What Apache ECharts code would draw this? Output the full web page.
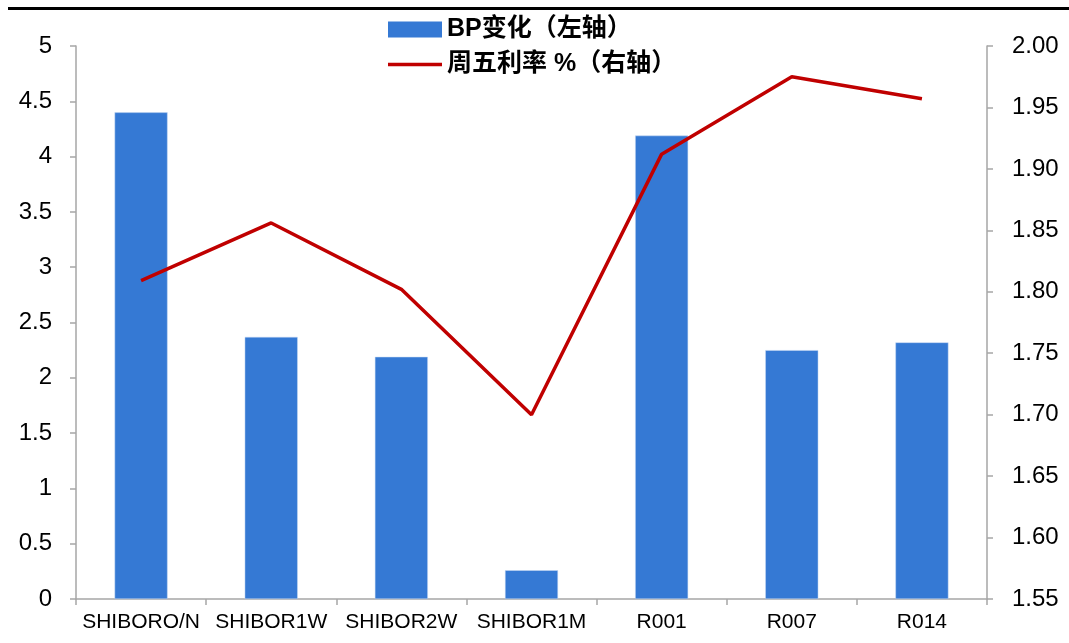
<!DOCTYPE html>
<html>
<head>
<meta charset="utf-8">
<script src="https://cdn.jsdelivr.net/npm/echarts@6/dist/echarts.min.js"></script>
<style>
html,body{margin:0;padding:0;background:#fff;}
#c{width:1069px;height:643px;}
</style>
</head>
<body>
<div id="c"></div>
<script>
var categories = ['SHIBORO/N', 'SHIBOR1W', 'SHIBOR2W', 'SHIBOR1M', 'R001', 'R007', 'R014'];
var bpChange = [4.40, 2.37, 2.19, 0.26, 4.19, 2.25, 2.32];
var fridayRate = [1.809, 1.856, 1.802, 1.700, 1.912, 1.975, 1.957];
var seriesNames = ['BP变化（左轴）', '周五利率 %（右轴）'];

var chart = echarts.init(document.getElementById('c'), null, {renderer: 'canvas'});
var axisColor = '#a6a6a6';
var labelFont = "'Liberation Sans', Arial, sans-serif";
chart.setOption({
  backgroundColor: '#ffffff',
  animation: false,
  graphic: [{
    type: 'rect',
    shape: {x: 8, y: 7, width: 1061, height: 3},
    style: {fill: '#000000'},
    silent: true
  }],
  legend: {
    orient: 'vertical',
    left: 383,
    top: 12,
    itemWidth: 54,
    itemHeight: 16,
    itemGap: 10,
    textStyle: {
      fontFamily: "'Liberation Sans', 'Noto Sans CJK SC', sans-serif",
      fontWeight: 'bold',
      fontSize: 25,
      lineHeight: 25,
      color: '#000'
    },
    data: [
      {name: seriesNames[0], icon: 'rect', itemStyle: {color: '#3579d4', borderWidth: 0}},
      {name: seriesNames[1], icon: 'path://M0,0H54V3.5H0Z', itemStyle: {color: '#c00000', borderWidth: 0}}
    ]
  },
  grid: {left: 76, right: 82, top: 46, bottom: 44, containLabel: false},
  xAxis: {
    type: 'category',
    data: categories,
    boundaryGap: true,
    axisLine: {show: true, lineStyle: {color: axisColor, width: 1.5}},
    axisTick: {show: true, alignWithLabel: false, length: 6, lineStyle: {color: axisColor, width: 1.5}},
    axisLabel: {color: '#000', fontFamily: labelFont, fontSize: 21, margin: 13, interval: 0},
    splitLine: {show: false}
  },
  yAxis: [{
    type: 'value',
    min: 0, max: 5, interval: 0.5,
    position: 'left',
    axisLine: {show: true, lineStyle: {color: axisColor, width: 1.5}},
    axisTick: {show: true, length: 6, lineStyle: {color: axisColor, width: 1.5}},
    axisLabel: {color: '#000', fontFamily: labelFont, fontSize: 24, margin: 24},
    splitLine: {show: false}
  }, {
    type: 'value',
    min: 1.55, max: 2.00, interval: 0.05,
    position: 'right',
    axisLine: {show: true, lineStyle: {color: axisColor, width: 1.5}},
    axisTick: {show: true, length: 6, lineStyle: {color: axisColor, width: 1.5}},
    axisLabel: {color: '#000', fontFamily: labelFont, fontSize: 24, margin: 25,
      formatter: function (v) { return v.toFixed(2); }},
    splitLine: {show: false}
  }],
  series: [{
    name: seriesNames[0],
    type: 'bar',
    yAxisIndex: 0,
    data: bpChange,
    barWidth: 53,
    itemStyle: {color: '#3579d4', borderColor: '#c9daf2', borderWidth: 0.5}
  }, {
    name: seriesNames[1],
    type: 'line',
    yAxisIndex: 1,
    data: fridayRate,
    symbol: 'none',
    lineStyle: {color: '#c00000', width: 3.5},
    itemStyle: {color: '#c00000'}
  }]
});
</script>
</body>
</html>
